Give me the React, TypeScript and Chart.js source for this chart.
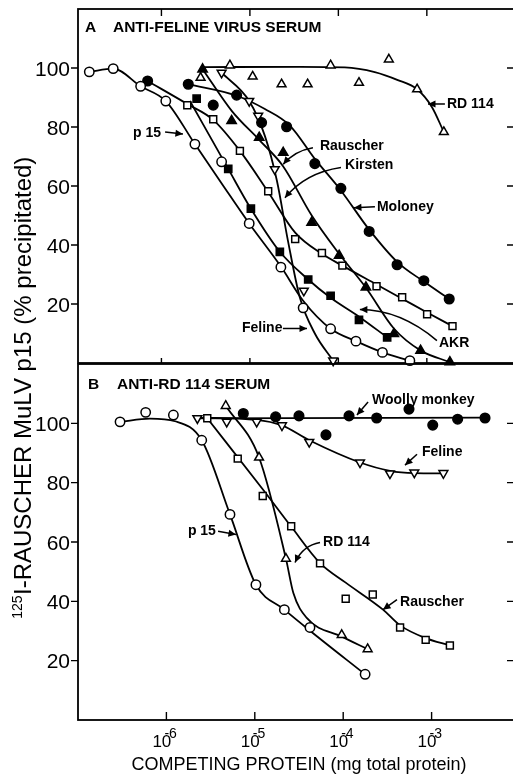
import React, { useEffect, useRef } from "react";
import { Chart, registerables } from "chart.js";

Chart.register(...registerables);

type P = [number, number];

// ---------------- shared axis values ----------------
const Y_TICKS = [20, 40, 60, 80, 100];
const X_DECADES = [1e-6, 1e-5, 1e-4, 1e-3];
const X_EXPONENTS = ["-6", "-5", "-4", "-3"];
const X_TITLE = "COMPETING PROTEIN (mg total protein)";
const Y_TITLE_SUP = "125";
const Y_TITLE = "I-RAUSCHER MuLV p15 (% precipitated)";

// ---------------- Panel A : anti-feline virus serum ----------------
const A_X_RANGE: P = [1.14e-7, 1.13e-2];
const A_TITLE_LETTER = "A";
const A_TITLE = "ANTI-FELINE VIRUS SERUM";

const A_p15_pts: P[] = [
  [1.53e-7, 98.7], [2.85e-7, 99.8], [5.82e-7, 93.8], [1.12e-6, 88.8], [2.39e-6, 74.2],
  [4.79e-6, 68.2], [9.82e-6, 47.3], [2.24e-5, 32.5], [4.0e-5, 18.7], [8.17e-5, 11.6],
  [1.58e-4, 7.4], [3.15e-4, 3.6], [6.43e-4, 0.8],
];
const A_p15_fit: P[] = [
  [1.53e-7, 98.7], [2.85e-7, 99.8], [5.82e-7, 93.8], [1.12e-6, 88.8], [2.39e-6, 74.2],
  [4.84e-6, 60.7], [9.82e-6, 47.3], [2.24e-5, 32.7], [4.0e-5, 21.1], [8.17e-5, 11.6],
  [1.58e-4, 7.4], [3.15e-4, 3.6], [6.43e-4, 0.8],
];
const A_moloney_pts: P[] = [
  [6.98e-7, 95.6], [2.01e-6, 94.5], [3.85e-6, 87.4], [7.08e-6, 90.8], [1.355e-5, 81.5],
  [2.6e-5, 80.1], [5.42e-5, 67.6], [1.067e-4, 59.2], [2.23e-4, 44.6], [4.61e-4, 33.3],
  [9.25e-4, 27.9], [1.79e-3, 21.7],
];
const A_moloney_fit: P[] = [
  [2.01e-6, 94.5], [7.08e-6, 90.6], [1.477e-5, 86.1], [2.83e-5, 80.5], [5.42e-5, 69.2],
  [1.067e-4, 58.5], [2.23e-4, 45.2], [4.61e-4, 34.3], [9.25e-4, 27.6], [1.79e-3, 21.7],
];
const A_kirsten_pts: P[] = [
  [1.96e-6, 87.4], [3.85e-6, 82.6], [7.71e-6, 71.9], [1.61e-5, 58.2], [3.25e-5, 42.0],
  [6.52e-5, 37.3], [1.11e-4, 33.0], [2.7e-4, 26.0], [5.26e-4, 22.3], [1.007e-3, 16.5],
  [1.95e-3, 12.5],
];
const A_kirsten_fit: P[] = [
  [6.98e-7, 95.6], [1.96e-6, 87.8], [3.85e-6, 82.4], [7.71e-6, 71.9], [1.61e-5, 58.0],
  [3.25e-5, 44.2], [6.52e-5, 37.0], [1.11e-4, 33.0], [2.7e-4, 26.6], [5.26e-4, 21.8],
  [1.007e-3, 17.1], [1.95e-3, 12.5],
];
const A_akr_pts: P[] = [
  [2.5e-6, 89.6], [5.69e-6, 65.8], [1.026e-5, 52.3], [2.18e-5, 37.7], [4.56e-5, 28.3],
  [8.17e-5, 22.8], [1.71e-4, 14.6], [3.56e-4, 8.7],
];
const A_akr_fit: P[] = [
  [2.1e-6, 88.8], [5.69e-6, 65.8], [1.026e-5, 52.3], [2.18e-5, 37.7], [4.56e-5, 28.3],
  [8.17e-5, 22.1], [1.71e-4, 15.7], [3.56e-4, 8.7],
];
const A_rauscher_pts: P[] = [
  [2.92e-6, 99.6], [6.21e-6, 82.1], [1.274e-5, 76.4], [2.38e-5, 71.3], [4.98e-5, 47.6],
  [1.02e-4, 36.4], [2.05e-4, 25.7], [4.24e-4, 9.9], [8.49e-4, 4.2], [1.82e-3, 0.3],
];
const A_rauscher_fit: P[] = [
  [2.92e-6, 99.6], [6.26e-6, 85.4], [1.297e-5, 75.4], [2.36e-5, 66.8], [5.02e-5, 49.9],
  [1.014e-4, 37.1], [2.05e-4, 25.5], [4.24e-4, 11.7], [8.55e-4, 4.2], [1.82e-3, 0.3],
];
const A_feline_pts: P[] = [
  [4.79e-6, 98.4], [9.82e-6, 88.8], [1.24e-5, 83.8], [1.91e-5, 65.7], [4.07e-5, 24.5],
  [8.73e-5, 0.8],
];
const A_feline_fit: P[] = [
  [4.79e-6, 98.4], [9.82e-6, 88.8], [1.476e-5, 77.0], [2.02e-5, 61.8], [2.69e-5, 41.5],
  [3.67e-5, 22.2], [5.42e-5, 10.0], [8.73e-5, 0.8],
];
const A_rd114_pts: P[] = [
  [2.77e-6, 96.7], [5.94e-6, 100.9], [1.074e-5, 97.1], [2.28e-5, 94.5], [4.49e-5, 94.5],
  [8.17e-5, 100.9], [1.71e-4, 95.0], [3.72e-4, 102.9], [7.76e-4, 92.8], [1.556e-3, 78.3],
];
const A_rd114_fit: P[] = [
  [2.94e-6, 100.3], [3.67e-5, 100.4], [1.18e-4, 100.2], [2.58e-4, 98.6], [4.7e-4, 95.9],
  [7.76e-4, 92.8], [1.14e-3, 86.8], [1.556e-3, 78.3],
];

// ---------------- Panel B : anti-RD 114 serum ----------------
const B_X_RANGE: P = [1e-7, 1e-2];
const B_TITLE_LETTER = "B";
const B_TITLE = "ANTI-RD 114 SERUM";

const B_p15_pts: P[] = [
  [2.99e-7, 100.5], [5.83e-7, 103.7], [1.2e-6, 102.8], [2.51e-6, 94.3], [5.24e-6, 69.3],
  [1.03e-5, 45.6], [2.16e-5, 37.2], [4.21e-5, 31.2], [1.77e-4, 15.4],
];
const B_p15_fit: P[] = [
  [2.99e-7, 100.5], [6.52e-7, 101.6], [1.25e-6, 100.7], [2.51e-6, 94.3], [5.24e-6, 69.3],
  [1.03e-5, 45.6], [2.16e-5, 37.2], [4.21e-5, 30.1], [1.77e-4, 15.4],
];
const B_rauscher_pts: P[] = [
  [2.9e-6, 101.7], [6.41e-6, 88.1], [1.23e-5, 75.5], [2.58e-5, 65.3], [5.47e-5, 52.8],
  [1.067e-4, 40.9], [2.16e-4, 42.3], [4.4e-4, 31.2], [8.57e-4, 27.0], [1.61e-3, 25.1],
];
const B_rauscher_fit: P[] = [
  [2.9e-6, 101.7], [1.23e-5, 77.8], [2.58e-5, 65.2], [5.47e-5, 52.9], [1.067e-4, 46.3],
  [2.82e-4, 37.2], [4.4e-4, 31.9], [8.57e-4, 27.6], [1.61e-3, 25.1],
];
const B_rd114_pts: P[] = [
  [4.69e-6, 105.9], [1.117e-5, 88.5], [2.25e-5, 54.4], [9.62e-5, 28.7], [1.89e-4, 23.9],
];
const B_rd114_fit: P[] = [
  [4.69e-6, 105.9], [1.117e-5, 88.5], [2.25e-5, 54.4], [2.73e-5, 42.8], [3.87e-5, 34.4],
  [9.62e-5, 28.1], [1.89e-4, 23.9],
];
const B_feline_pts: P[] = [
  [2.24e-6, 101.7], [4.81e-6, 100.5], [1.05e-5, 100.5], [2.03e-5, 99.3], [4.13e-5, 93.7],
  [1.55e-4, 86.8], [3.38e-4, 83.1], [6.37e-4, 83.4], [1.36e-3, 83.2],
];
const B_feline_fit: P[] = [
  [2.24e-6, 101.9], [1.05e-5, 101.2], [2.03e-5, 99.3], [4.13e-5, 94.3], [1.55e-4, 86.8],
  [3.38e-4, 84.0], [6.37e-4, 83.2], [1.36e-3, 83.1],
];
const B_woolly_pts: P[] = [
  [7.41e-6, 103.3], [1.72e-5, 102.2], [3.16e-5, 102.5], [6.38e-5, 96.1], [1.164e-4, 102.5],
  [2.39e-4, 101.8], [5.55e-4, 104.8], [1.03e-3, 99.4], [1.97e-3, 101.4], [4.02e-3, 101.8],
];
const B_woolly_fit: P[] = [[2.11e-6, 101.7], [4.02e-3, 101.9]];

// ---------------- annotations (anchored in data units) ----------------
type Note = { text: string; at: P };
type Arrow = { from: P; to: P; via?: P };

const A_NOTES: Note[] = [
  { text: "p 15", at: [4.77e-7, 78.0] },
  { text: "RD 114", at: [1.69e-3, 87.8] },
  { text: "Rauscher", at: [6.19e-5, 73.6] },
  { text: "Kirsten", at: [1.19e-4, 67.2] },
  { text: "Moloney", at: [2.73e-4, 53.0] },
  { text: "AKR", at: [1.37e-3, 6.6] },
  { text: "Feline", at: [8.14e-6, 11.7] },
];
const A_ARROWS: Arrow[] = [
  { from: [1.1e-6, 78.3], to: [1.75e-6, 77.6] },
  { from: [1.6e-3, 87.8], to: [1.03e-3, 87.8] },
  { from: [5.16e-5, 73.0], via: [3.23e-5, 72.0], to: [2.38e-5, 67.4] },
  { from: [1.07e-4, 66.3], via: [4.2e-5, 64.5], to: [2.49e-5, 56.0] },
  { from: [2.59e-4, 53.0], to: [1.5e-4, 52.6] },
  { from: [1.3e-3, 7.6], via: [4.97e-4, 18.1], to: [1.75e-4, 18.1] },
  { from: [2.36e-5, 11.7], to: [4.42e-5, 11.7] },
];
const A_TITLE_AT: { letter: P; text: P } = { letter: [1.37e-7, 113.6], text: [2.83e-7, 113.6] };

const B_NOTES: Note[] = [
  { text: "Woolly monkey", at: [2.12e-4, 107.7] },
  { text: "Feline", at: [7.78e-4, 90.4] },
  { text: "RD 114", at: [5.92e-5, 60.0] },
  { text: "Rauscher", at: [4.4e-4, 39.7] },
  { text: "p 15", at: [1.75e-6, 63.6] },
];
const B_ARROWS: Arrow[] = [
  { from: [1.91e-4, 107.2], to: [1.43e-4, 102.8] },
  { from: [6.84e-4, 89.6], to: [5.0e-4, 85.9] },
  { from: [5.47e-5, 59.8], via: [3.51e-5, 58.8], to: [2.85e-5, 53.1] },
  { from: [4.06e-4, 40.6], to: [2.82e-4, 37.2] },
  { from: [3.84e-6, 63.6], to: [6.12e-6, 62.5] },
];
const B_TITLE_AT: { letter: P; text: P } = { letter: [1.3e-7, 112.9], text: [2.76e-7, 112.9] };

// ---------------- styling ----------------
const FONT = '"Liberation Sans", Arial, Helvetica, sans-serif';
const INK = "#000";
const W = 530;
const H = 774;

type Marker = { style: string; r: number; filled: boolean; rot?: number };
const OPEN_CIRCLE: Marker = { style: "circle", r: 4.7, filled: false };
const FILLED_CIRCLE: Marker = { style: "circle", r: 4.8, filled: true };
const OPEN_TRI: Marker = { style: "triangle", r: 5.1, filled: false };
const FILLED_TRI: Marker = { style: "triangle", r: 5.4, filled: true };
const OPEN_TRI_DOWN: Marker = { style: "triangle", r: 5.1, filled: false, rot: 180 };
const OPEN_SQUARE: Marker = { style: "rect", r: 4.9, filled: false };
const FILLED_SQUARE: Marker = { style: "rect", r: 5.1, filled: true };

type Series = { pts: P[]; fit: P[]; marker: Marker };

const A_SERIES: Series[] = [
  { pts: A_p15_pts, fit: A_p15_fit, marker: OPEN_CIRCLE },
  { pts: A_moloney_pts, fit: A_moloney_fit, marker: FILLED_CIRCLE },
  { pts: A_kirsten_pts, fit: A_kirsten_fit, marker: OPEN_SQUARE },
  { pts: A_akr_pts, fit: A_akr_fit, marker: FILLED_SQUARE },
  { pts: A_rauscher_pts, fit: A_rauscher_fit, marker: FILLED_TRI },
  { pts: A_feline_pts, fit: A_feline_fit, marker: OPEN_TRI_DOWN },
  { pts: A_rd114_pts, fit: A_rd114_fit, marker: OPEN_TRI },
];
const B_SERIES: Series[] = [
  { pts: B_p15_pts, fit: B_p15_fit, marker: OPEN_CIRCLE },
  { pts: B_rauscher_pts, fit: B_rauscher_fit, marker: OPEN_SQUARE },
  { pts: B_rd114_pts, fit: B_rd114_fit, marker: OPEN_TRI },
  { pts: B_feline_pts, fit: B_feline_fit, marker: OPEN_TRI_DOWN },
  { pts: B_woolly_pts, fit: B_woolly_fit, marker: FILLED_CIRCLE },
];

type Panel = {
  key: string;
  xRange: P;
  series: Series[];
  notes: Note[];
  arrows: Arrow[];
  titleLetter: string;
  title: string;
  titleAt: { letter: P; text: P };
  padding: { left: number; top: number; right: number; bottom: number };
  topTick: number;
  bottomTick: number;
  xLabels: boolean;
};

const PANEL_A: Panel = {
  key: "A",
  xRange: A_X_RANGE,
  series: A_SERIES,
  notes: A_NOTES,
  arrows: A_ARROWS,
  titleLetter: A_TITLE_LETTER,
  title: A_TITLE,
  titleAt: A_TITLE_AT,
  padding: { left: 78, top: 9, right: W - 520, bottom: H - 363 },
  topTick: 7,
  bottomTick: 5,
  xLabels: false,
};
const PANEL_B: Panel = {
  key: "B",
  xRange: B_X_RANGE,
  series: B_SERIES,
  notes: B_NOTES,
  arrows: B_ARROWS,
  titleLetter: B_TITLE_LETTER,
  title: B_TITLE,
  titleAt: B_TITLE_AT,
  padding: { left: 78, top: 364, right: W - 520, bottom: H - 720 },
  topTick: 0,
  bottomTick: 8,
  xLabels: true,
};

const toXY = (arr: P[]) => arr.map(([x, y]) => ({ x, y }));

function drawArrow(ctx: CanvasRenderingContext2D, a: number[], b: number[], c?: number[]) {
  ctx.beginPath();
  ctx.moveTo(a[0], a[1]);
  if (c) ctx.quadraticCurveTo(c[0], c[1], b[0], b[1]);
  else ctx.lineTo(b[0], b[1]);
  ctx.stroke();
  const s = c || a;
  const ang = Math.atan2(b[1] - s[1], b[0] - s[0]);
  const len = 7.5;
  const hw = 3.6;
  ctx.beginPath();
  ctx.moveTo(b[0], b[1]);
  ctx.lineTo(b[0] - len * Math.cos(ang) + hw * Math.sin(ang), b[1] - len * Math.sin(ang) - hw * Math.cos(ang));
  ctx.lineTo(b[0] - len * Math.cos(ang) - hw * Math.sin(ang), b[1] - len * Math.sin(ang) + hw * Math.cos(ang));
  ctx.closePath();
  ctx.fill();
}

function makePlugin(p: Panel) {
  return {
    id: "panelDecor" + p.key,
    beforeDatasetsDraw(chart: any) {
      const { ctx, chartArea: a, scales } = chart;
      const xs = scales.x;
      const ys = scales.y;
      ctx.save();
      ctx.strokeStyle = INK;
      ctx.fillStyle = INK;
      ctx.lineWidth = 1.8;
      ctx.strokeRect(a.left, a.top, a.right - a.left, a.bottom - a.top);
      ctx.lineWidth = 1.4;
      ctx.beginPath();
      for (const v of Y_TICKS) {
        const y = ys.getPixelForValue(v);
        ctx.moveTo(a.left - 7, y);
        ctx.lineTo(a.left, y);
        ctx.moveTo(a.right - 13, y);
        ctx.lineTo(a.right, y);
      }
      for (const d of X_DECADES) {
        const x = xs.getPixelForValue(d);
        if (p.topTick) {
          ctx.moveTo(x, a.top);
          ctx.lineTo(x, a.top + p.topTick);
        }
        ctx.moveTo(x, a.bottom);
        ctx.lineTo(x, a.bottom - p.bottomTick);
      }
      ctx.stroke();

      ctx.font = `21px ${FONT}`;
      ctx.textAlign = "right";
      ctx.textBaseline = "alphabetic";
      for (const v of Y_TICKS) {
        const y = ys.getPixelForValue(v);
        ctx.fillText(String(v), a.left - 8, y + 7.5);
      }
      ctx.restore();
    },
    afterDraw(chart: any) {
      const { ctx, chartArea: a, scales } = chart;
      const xs = scales.x;
      const ys = scales.y;
      const px = (v: P) => [xs.getPixelForValue(v[0]), ys.getPixelForValue(v[1])];
      ctx.save();
      ctx.fillStyle = INK;
      ctx.strokeStyle = INK;

      // panel title
      ctx.font = `bold 15.5px ${FONT}`;
      ctx.textAlign = "left";
      ctx.textBaseline = "middle";
      const tl = px(p.titleAt.letter);
      ctx.fillText(p.titleLetter, tl[0], tl[1]);
      const tt = px(p.titleAt.text);
      ctx.fillText(p.title, tt[0], tt[1]);

      // curve labels
      ctx.font = `bold 14px ${FONT}`;
      for (const n of p.notes) {
        const q = px(n.at);
        ctx.fillText(n.text, q[0], q[1]);
      }
      ctx.lineWidth = 1.5;
      for (const ar of p.arrows) {
        drawArrow(ctx, px(ar.from), px(ar.to), ar.via ? px(ar.via) : undefined);
      }

      if (p.xLabels) {
        ctx.textBaseline = "alphabetic";
        X_DECADES.forEach((d, i) => {
          const x = xs.getPixelForValue(d);
          ctx.font = `17px ${FONT}`;
          ctx.fillText("10", x - 14, a.bottom + 27);
          ctx.font = `14px ${FONT}`;
          ctx.fillText(X_EXPONENTS[i], x - 2, a.bottom + 18);
        });
        ctx.font = `18px ${FONT}`;
        ctx.textAlign = "center";
        ctx.fillText(X_TITLE, (a.left + a.right) / 2, a.bottom + 50);

        // y-axis title spanning both panels
        ctx.save();
        ctx.translate(31, 388);
        ctx.rotate(-Math.PI / 2);
        ctx.textAlign = "left";
        const supF = `14px ${FONT}`;
        const mainF = `24px ${FONT}`;
        ctx.font = supF;
        const ws = ctx.measureText(Y_TITLE_SUP).width;
        ctx.font = mainF;
        const wm = ctx.measureText(Y_TITLE).width;
        const x0 = -(ws + wm) / 2;
        ctx.font = supF;
        ctx.fillText(Y_TITLE_SUP, x0, -9);
        ctx.font = mainF;
        ctx.fillText(Y_TITLE, x0 + ws + 0.5, 0);
        ctx.restore();
      }
      ctx.restore();
    },
  };
}

function makeConfig(p: Panel): any {
  const datasets: any[] = [];
  for (const s of p.series) {
    datasets.push({
      data: toXY(s.pts),
      showLine: false,
      pointStyle: s.marker.style,
      pointRadius: s.marker.r,
      pointRotation: s.marker.rot || 0,
      pointBackgroundColor: s.marker.filled ? INK : "#fff",
      pointBorderColor: INK,
      pointBorderWidth: 1.5,
      clip: false,
      order: 0,
    });
  }
  for (const s of p.series) {
    datasets.push({
      data: toXY(s.fit),
      showLine: true,
      pointRadius: 0,
      borderColor: INK,
      borderWidth: 1.8,
      cubicInterpolationMode: "monotone",
      fill: false,
      clip: false,
      order: 1,
    });
  }
  return {
    type: "scatter",
    data: { datasets },
    options: {
      animation: false,
      responsive: false,
      maintainAspectRatio: false,
      events: [],
      layout: { padding: p.padding },
      plugins: { legend: { display: false }, tooltip: { enabled: false }, title: { display: false } },
      scales: {
        x: { type: "logarithmic", min: p.xRange[0], max: p.xRange[1], display: false },
        y: { type: "linear", min: 0, max: 120, display: false },
      },
    },
    plugins: [makePlugin(p)],
  };
}

export default function App() {
  const refA = useRef<HTMLCanvasElement>(null);
  const refB = useRef<HTMLCanvasElement>(null);
  useEffect(() => {
    const ca = new Chart(refA.current as HTMLCanvasElement, makeConfig(PANEL_A));
    const cb = new Chart(refB.current as HTMLCanvasElement, makeConfig(PANEL_B));
    return () => {
      ca.destroy();
      cb.destroy();
    };
  }, []);
  const cs: React.CSSProperties = { position: "absolute", left: 0, top: 0, width: W, height: H };
  return (
    <div
      style={{
        position: "fixed",
        left: 0,
        top: 0,
        width: 513,
        height: 774,
        overflow: "hidden",
        background: "#fff",
      }}
    >
      <canvas ref={refA} width={W} height={H} style={cs} />
      <canvas ref={refB} width={W} height={H} style={cs} />
    </div>
  );
}
